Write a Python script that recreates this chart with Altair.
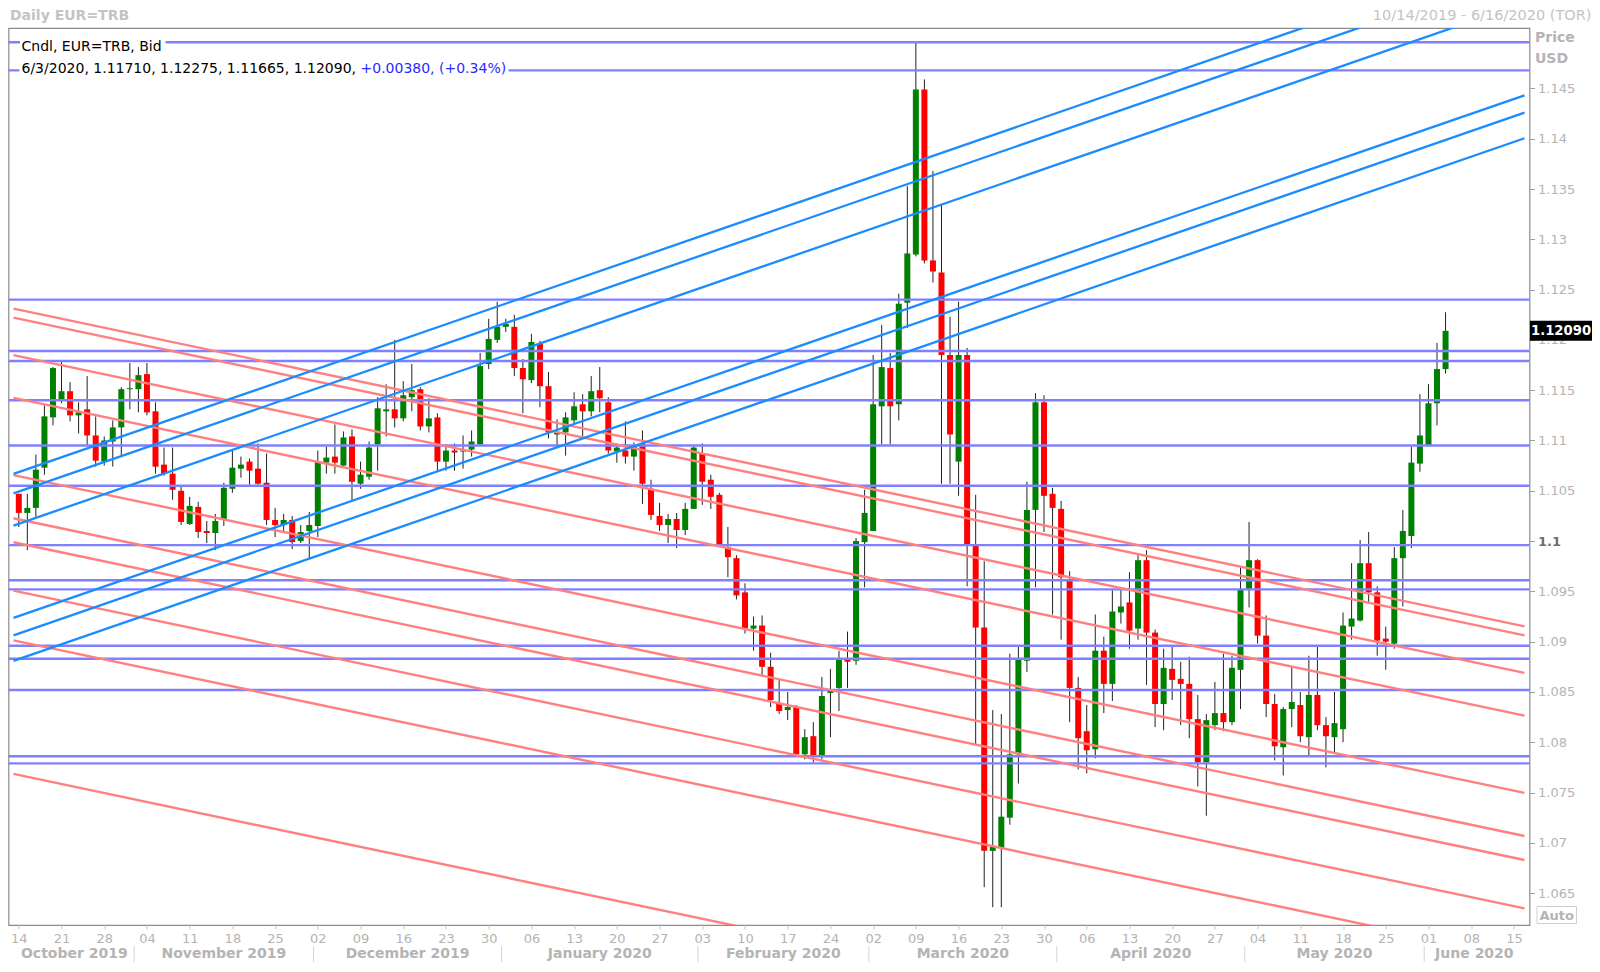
import altair as alt
import pandas as pd

# ---------------- data (index 0 = 2019-10-14, weekdays) ----------------
opens = [1.1047, 1.1028, 1.1033, 1.1073, 1.1123, 1.1141, 1.1149, 1.1125, 1.1131, 1.1105,
         1.1079, 1.1099, 1.1113, 1.1151, 1.1151, 1.1166, 1.1129, 1.1076, 1.1067, 1.1050,
         1.1017, 1.1034, 1.1010, 1.1008, 1.1022, 1.1052, 1.1072, 1.1079, 1.1072, 1.1058,
         1.1021, 1.1016, 1.1021, 1.1000, 1.1010, 1.1015, 1.1078, 1.1084, 1.1075, 1.1104,
         1.1057, 1.1064, 1.1096, 1.1129, 1.1131, 1.1122, 1.1143, 1.1151, 1.1114, 1.1123,
         1.1079, 1.1090, 1.1089, 1.1091, 1.1096, 1.1176, 1.1200, 1.1213, 1.1213, 1.1172,
         1.1160, 1.1196, 1.1154, 1.1106, 1.1108, 1.1120, 1.1136, 1.1129, 1.1150, 1.1138,
         1.1089, 1.1090, 1.1084, 1.1097, 1.1052, 1.1025, 1.1016, 1.1022, 1.1011, 1.1032,
         1.1087, 1.1061, 1.1046, 1.0994, 1.0983, 1.0949, 1.0913, 1.0916, 1.0875, 1.0839,
         1.0832, 1.0835, 1.0788, 1.0806, 1.0787, 1.0849, 1.0854, 1.0883, 1.0881, 1.0999,
         1.1010, 1.1134, 1.1172, 1.1136, 1.1237, 1.1285, 1.1449, 1.1279, 1.1267, 1.1185,
         1.1079, 1.1185, 1.0996, 1.0914, 1.0692, 1.0695, 1.0725, 1.0788, 1.0881, 1.1031,
         1.1138, 1.1047, 1.1032, 1.0962, 1.0854, 1.0811, 1.0793, 1.0891, 1.0858, 1.0929,
         1.0939, 1.0913, 1.0981, 1.0909, 1.0838, 1.0873, 1.0863, 1.0858, 1.0823, 1.0780,
         1.0817, 1.0829, 1.0820, 1.0872, 1.0952, 1.0981, 1.0906, 1.0838, 1.0795, 1.0833,
         1.0837, 1.0805, 1.0847, 1.0817, 1.0805, 1.0813, 1.0915, 1.0921, 1.0978, 1.0949,
         1.0903, 1.0898, 1.0983, 1.1005, 1.1077, 1.1095, 1.1137, 1.1171]
highs = [1.1047, 1.1047, 1.1086, 1.1135, 1.1173, 1.1178, 1.1158, 1.1138, 1.1164, 1.1124,
         1.1104, 1.1120, 1.1153, 1.1177, 1.1173, 1.1177, 1.1138, 1.1093, 1.1093, 1.1054,
         1.1044, 1.1039, 1.1020, 1.1027, 1.1058, 1.1091, 1.1084, 1.1082, 1.1097, 1.1087,
         1.1033, 1.1027, 1.1025, 1.1016, 1.1029, 1.1090, 1.1094, 1.1116, 1.1109, 1.1111,
         1.1079, 1.1099, 1.1143, 1.1156, 1.1200, 1.1159, 1.1176, 1.1153, 1.1142, 1.1127,
         1.1096, 1.1097, 1.1105, 1.1110, 1.1187, 1.1221, 1.1238, 1.1221, 1.1225, 1.1181,
         1.1206, 1.1199, 1.1168, 1.1121, 1.1128, 1.1148, 1.1146, 1.1164, 1.1173, 1.1143,
         1.1097, 1.1119, 1.1098, 1.1110, 1.1061, 1.1038, 1.1027, 1.1028, 1.1038, 1.1094,
         1.1097, 1.1066, 1.1048, 1.1014, 1.0986, 1.0958, 1.0925, 1.0926, 1.0889, 1.0862,
         1.0850, 1.0837, 1.0813, 1.0820, 1.0865, 1.0873, 1.0891, 1.0910, 1.1003, 1.1051,
         1.1185, 1.1215, 1.1187, 1.1246, 1.1353, 1.1496, 1.1459, 1.1368, 1.1335, 1.1223,
         1.1238, 1.1192, 1.1046, 1.0980, 1.0832, 1.0828, 1.0888, 1.0895, 1.1059, 1.1147,
         1.1145, 1.1053, 1.1040, 1.0970, 1.0865, 1.0837, 1.0927, 1.0905, 1.0952, 1.0952,
         1.0969, 1.0987, 1.0991, 1.0912, 1.0893, 1.0895, 1.0880, 1.0885, 1.0847, 1.0828,
         1.0860, 1.0888, 1.0886, 1.0974, 1.1019, 1.0982, 1.0926, 1.0848, 1.0835, 1.0875,
         1.0850, 1.0886, 1.0895, 1.0825, 1.0850, 1.0929, 1.0978, 1.1001, 1.1009, 1.0955,
         1.0915, 1.0994, 1.1031, 1.1094, 1.1146, 1.1156, 1.1197, 1.12275]
lows = [1.1014, 1.0991, 1.1024, 1.1066, 1.1115, 1.1137, 1.1119, 1.1107, 1.1095, 1.1074,
        1.1075, 1.1074, 1.1085, 1.1131, 1.1128, 1.1125, 1.1067, 1.1065, 1.1041, 1.1016,
        1.1016, 1.1003, 1.0998, 1.0991, 1.1015, 1.1048, 1.1063, 1.1056, 1.1056, 1.1016,
        1.1004, 1.1008, 1.0992, 1.0998, 1.0983, 1.1004, 1.1067, 1.1067, 1.1075, 1.1040,
        1.1052, 1.1061, 1.1070, 1.1104, 1.1113, 1.1119, 1.1129, 1.1110, 1.1108, 1.1070,
        1.1070, 1.1070, 1.1072, 1.1084, 1.1096, 1.1171, 1.1197, 1.1208, 1.1164, 1.1127,
        1.1157, 1.1133, 1.1102, 1.1095, 1.1085, 1.1116, 1.1104, 1.1124, 1.1128, 1.1087,
        1.1078, 1.1077, 1.1070, 1.1037, 1.1021, 1.1010, 1.0998, 1.0993, 1.1006, 1.1032,
        1.1036, 1.1032, 1.0994, 1.0964, 1.0942, 1.0908, 1.0891, 1.0866, 1.0835, 1.0828,
        1.0822, 1.0787, 1.0783, 1.0780, 1.0783, 1.0805, 1.0831, 1.0854, 1.0877, 1.0954,
        1.1010, 1.1096, 1.1096, 1.1120, 1.1212, 1.1283, 1.1276, 1.1257, 1.1057, 1.1057,
        1.1045, 1.0955, 1.0798, 1.0656, 1.0636, 1.0636, 1.0718, 1.0759, 1.0870, 1.0954,
        1.1009, 1.0927, 1.0902, 1.0820, 1.0773, 1.0769, 1.0784, 1.0829, 1.0841, 1.0918,
        1.0893, 1.0902, 1.0857, 1.0815, 1.0812, 1.0842, 1.0817, 1.0804, 1.0756, 1.0727,
        1.0812, 1.0811, 1.0817, 1.0833, 1.0934, 1.0898, 1.0825, 1.0782, 1.0767, 1.0815,
        1.0800, 1.0787, 1.0812, 1.0775, 1.0790, 1.0800, 1.0902, 1.0920, 1.0938, 1.0886,
        1.0872, 1.0893, 1.0935, 1.0993, 1.1069, 1.1095, 1.1115, 1.11665]
closes = [1.1028, 1.1033, 1.1071, 1.1124, 1.1172, 1.1149, 1.1125, 1.1128, 1.1105, 1.1080,
          1.1100, 1.1113, 1.1151, 1.1152, 1.1165, 1.1128, 1.1074, 1.1067, 1.1051, 1.1019,
          1.1035, 1.1009, 1.1008, 1.1020, 1.1053, 1.1073, 1.1076, 1.1070, 1.1057, 1.1021,
          1.1016, 1.1021, 1.0999, 1.1009, 1.1016, 1.1079, 1.1083, 1.1078, 1.1103, 1.1059,
          1.1066, 1.1093, 1.1132, 1.1131, 1.1122, 1.1145, 1.1150, 1.1114, 1.1122, 1.1079,
          1.1090, 1.1088, 1.1090, 1.1099, 1.1174, 1.1201, 1.1213, 1.1216, 1.1172, 1.1161,
          1.1198, 1.1154, 1.1108, 1.1108, 1.1123, 1.1134, 1.1129, 1.1149, 1.1142, 1.1090,
          1.1093, 1.1084, 1.1095, 1.1057, 1.1026, 1.1016, 1.1022, 1.1011, 1.1032, 1.1093,
          1.1059, 1.1044, 1.0996, 1.0984, 1.0946, 1.0913, 1.0916, 1.0875, 1.0842, 1.0831,
          1.0835, 1.0788, 1.0805, 1.0787, 1.0846, 1.0852, 1.0883, 1.0880, 1.1000, 1.1028,
          1.1136, 1.1173, 1.1134, 1.1236, 1.1286, 1.1449, 1.1279, 1.1268, 1.1185, 1.1106,
          1.1185, 1.0997, 1.0914, 1.0692, 1.0696, 1.0726, 1.0788, 1.0882, 1.1031, 1.1138,
          1.1045, 1.1033, 1.0964, 1.0854, 1.0804, 1.0792, 1.0891, 1.0858, 1.0930, 1.0935,
          1.0911, 1.0981, 1.0909, 1.0838, 1.0874, 1.0862, 1.0858, 1.0823, 1.0780, 1.0822,
          1.0829, 1.0820, 1.0874, 1.0952, 1.0981, 1.0906, 1.0838, 1.0796, 1.0833, 1.0840,
          1.0806, 1.0847, 1.0817, 1.0806, 1.0819, 1.0916, 1.0923, 1.0978, 1.0949, 1.0901,
          1.0900, 1.0983, 1.1010, 1.1078, 1.1105, 1.1137, 1.1171, 1.1209]

# horizontal support / resistance lines
hline_prices = [1.1496, 1.1468, 1.1240, 1.1189, 1.1179, 1.1140, 1.1095, 1.1055,
                1.0996, 1.0961, 1.0952, 1.0896, 1.0883, 1.0852, 1.0786, 1.0779]
# rising (blue) trend lines: price at left edge and at right edge of the plot
blue_left = [1.10668, 1.10475, 1.10154, 1.09236, 1.09063, 1.08809]
blue_right = [1.15864, 1.15671, 1.15350, 1.14432, 1.14259, 1.14005]
# falling (red) trend lines
red_left = [1.12311, 1.12221, 1.11848, 1.11424, 1.10655, 1.10227, 1.09988, 1.09508, 1.09013, 1.07685]
red_right = [1.09152, 1.09062, 1.08689, 1.08265, 1.07496, 1.07068, 1.06829, 1.06349, 1.05854, 1.04526]

y_ticks = [1.065, 1.07, 1.075, 1.08, 1.085, 1.09, 1.095, 1.1, 1.105, 1.11,
           1.115, 1.12, 1.125, 1.13, 1.135, 1.14, 1.145]

X_LEFT, X_RIGHT = -0.62, 176.24
Y_LO, Y_HI = 1.06183, 1.15101
W, H = 1521, 897
FONT = "DejaVu Sans"
GRAY = "#b4b4b4"

dates = pd.bdate_range("2019-10-14", periods=177)
n = len(closes)
candles = pd.DataFrame({"i": list(range(n)), "open": opens, "high": highs,
                        "low": lows, "close": closes})

xs = alt.Scale(domain=[X_LEFT, X_RIGHT], nice=False, zero=False)
ys = alt.Scale(domain=[Y_LO, Y_HI], nice=False, zero=False)

mondays = [k for k in range(len(dates)) if dates[k].weekday() == 0]

x_axis = alt.Axis(values=mondays, title=None, grid=False, domain=False,
                  labelExpr="timeFormat(datetime(2019, 9, 14 + datum.value / 5 * 7), '%d')",
                  labelColor=GRAY, labelFont=FONT, labelFontSize=13, labelFlush=8,
                  labelOverlap=False, tickColor="#c8c8c8", tickSize=4, labelPadding=3)
is_one = "abs(datum.value - 1.1) < 0.000001"
y_axis = alt.Axis(orient="right", values=y_ticks, title=None, grid=False, domain=False,
                  labelExpr="format(datum.value, '.3~f')",
                  labelColor={"condition": {"test": is_one, "value": "#6e6e6e"}, "value": GRAY},
                  labelFontWeight={"condition": {"test": is_one, "value": "bold"}, "value": "normal"},
                  labelFont=FONT, labelFontSize=13, tickColor="#a0a0a0", tickSize=5, labelPadding=3)


def X(field):
    return alt.X(field, scale=xs, axis=x_axis)


def Y(field):
    return alt.Y(field, scale=ys, axis=y_axis)


wicks = alt.Chart(candles).mark_rule(color="#222222", strokeWidth=1).encode(
    x=X("i:Q"), y=Y("low:Q"), y2="high:Q")

bodies = alt.Chart(candles).mark_bar(size=6).encode(
    x=X("i:Q"), y=Y("open:Q"), y2="close:Q",
    color=alt.condition("datum.close >= datum.open", alt.value("#008000"), alt.value("#ff0000")))

hl = alt.Chart(pd.DataFrame({"price": hline_prices})).mark_rule(
    color="#8080ff", strokeWidth=2.4).encode(y=Y("price:Q"))


def trend_df(lefts, rights, tag):
    rows = []
    for k, (a, b) in enumerate(zip(lefts, rights)):
        rows.append({"id": f"{tag}{k}", "i": X_LEFT, "price": a})
        rows.append({"id": f"{tag}{k}", "i": X_RIGHT, "price": b})
    return pd.DataFrame(rows)


red_lines = alt.Chart(trend_df(red_left, red_right, "r")).mark_line(
    color="#ff8080", strokeWidth=2.4, clip=True).encode(
    x=X("i:Q"), y=Y("price:Q"), detail="id:N")

blue_lines = alt.Chart(trend_df(blue_left, blue_right, "b")).mark_line(
    color="#1a8cff", strokeWidth=2.3, clip=True).encode(
    x=X("i:Q"), y=Y("price:Q"), detail="id:N")

# month labels and separators under the day labels
mrows, seps = [], []
for (yr, mo), grp in pd.Series(range(len(dates)), index=dates).groupby([dates.year, dates.month]):
    first, last_k = int(grp.iloc[0]), int(grp.iloc[-1])
    lo = max(first - 0.5, X_LEFT)
    hi = min(last_k + 0.5, X_RIGHT)
    name = pd.Timestamp(year=yr, month=mo, day=1).strftime("%B %Y")
    mrows.append({"i": (lo + hi) / 2, "name": name})
    if first > 0:
        seps.append({"i": first - 0.5})

month_text = alt.Chart(pd.DataFrame(mrows)).mark_text(
    font=FONT, fontSize=14, fontWeight="bold", color=GRAY, baseline="alphabetic").encode(
    x=X("i:Q"), y=alt.value(H + 33), text="name:N")
month_sep = alt.Chart(pd.DataFrame(seps)).mark_rule(color="#d4d4d4", strokeWidth=1).encode(
    x=X("i:Q"), y=alt.value(H + 21), y2=alt.value(H + 40))


# header texts
def label(txt, x, y, **kw):
    return alt.Chart(pd.DataFrame({"t": [txt]})).mark_text(font=FONT, **kw).encode(
        x=alt.value(x), y=alt.value(y), text="t:N")


title_l = label("Daily EUR=TRB", 1.5, -12, fontSize=14, fontWeight="bold", color="#c4c4c4", align="left")
title_r = label("10/14/2019 - 6/16/2020 (TOR)", 1583, -12, fontSize=14.5, color="#c4c4c4", align="right")
price_t = label("Price", 1526.5, 10, fontSize=14, fontWeight="bold", color=GRAY, align="left")
usd_t = label("USD", 1526.5, 31, fontSize=14, fontWeight="bold", color=GRAY, align="left")

auto_box = alt.Chart(pd.DataFrame({"a": [0]})).mark_rect(
    fill="#ffffff", stroke="#cfcfcf", strokeWidth=1).encode(
    x=alt.value(1528.5), x2=alt.value(1568), y=alt.value(878.5), y2=alt.value(895.5))
auto_t = label("Auto", 1548.2, 887.5, fontSize=13, fontWeight="bold", color=GRAY, align="center")

# legend inside plot
last = n - 1
chg = closes[last] - closes[last - 1]
d = dates[last]
line1 = "Cndl, EUR=TRB, Bid"
line2a = f"{d.month}/{d.day}/{d.year}, {opens[last]:.5f}, {highs[last]:.5f}, {lows[last]:.5f}, {closes[last]:.5f}, "
line2b = f"{chg:+.5f}, ({chg / closes[last - 1] * 100:+.2f}%)"

bg1 = alt.Chart(pd.DataFrame({"a": [0]})).mark_rect(fill="white").encode(
    x=alt.value(11.5), x2=alt.value(157), y=alt.value(10.5), y2=alt.value(27))
bg2 = alt.Chart(pd.DataFrame({"a": [0]})).mark_rect(fill="white").encode(
    x=alt.value(11), x2=alt.value(500), y=alt.value(33), y2=alt.value(49.5))
leg1 = label(line1, 13, 18.7, fontSize=14, color="#000000", align="left")
leg2a = label(line2a, 13, 41, fontSize=14, color="#000000", align="left")
leg2b = label(line2b, 352, 41, fontSize=14, color="#2b2bff", align="left")

# last price tag on the axis
last_df = pd.DataFrame({"p": [closes[last]], "t": [f"{closes[last]:.5f}"]})
tag_bg = alt.Chart(last_df).mark_rule(color="#000000", strokeWidth=20).encode(
    x=alt.value(W + 0.5), x2=alt.value(W + 62.5), y=Y("p:Q"))
tag_t = alt.Chart(last_df).mark_text(font=FONT, fontSize=13.2, fontWeight="bold",
                                     color="#ffffff", align="left").encode(
    x=alt.value(W + 1.5), y=Y("p:Q"), text="t:N")

chart = alt.layer(
    wicks, bodies, hl, red_lines, blue_lines,
    month_sep, month_text, title_l, title_r, price_t, usd_t, auto_box, auto_t,
    bg1, bg2, leg1, leg2a, leg2b, tag_bg, tag_t
).properties(
    width=W, height=H,
    padding={"left": 0.5, "top": 20, "right": 62.5, "bottom": 37},
    autosize=alt.AutoSizeParams(type="none"),
).configure_view(stroke="#8c8c8c", strokeWidth=1.2)

chart.save("out.html", embed_options={"renderer": "svg", "actions": False})
